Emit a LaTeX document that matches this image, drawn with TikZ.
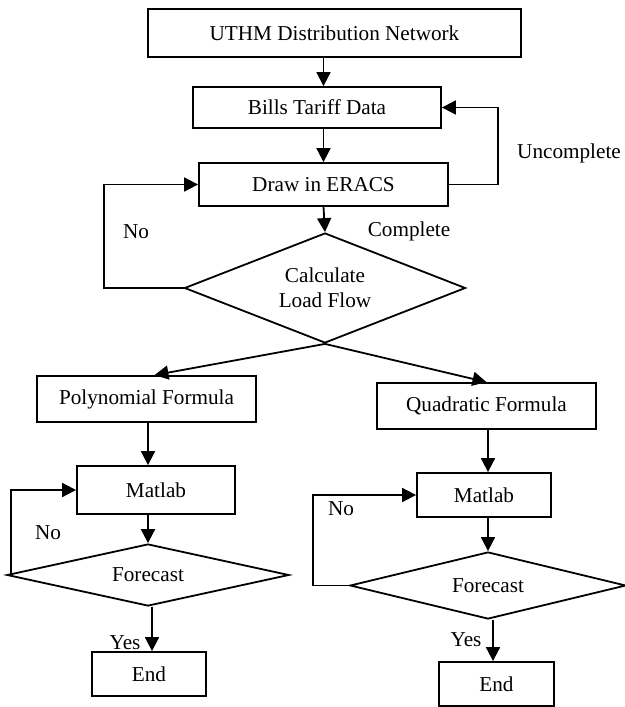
\documentclass[tikz,border=0pt]{standalone}
\usepackage{fontspec}
\setmainfont{Liberation Serif}
\usetikzlibrary{shapes.geometric,arrows.meta,calc}

\begin{document}
\begin{tikzpicture}[x=0.5pt,y=-0.5pt,line width=0.9pt,>={Triangle[length=7pt,width=7pt]}]
\tikzstyle{every node}=[font=\fontsize{10.6pt}{12.5pt}\selectfont]
\tikzstyle{blk}=[draw, inner sep=0pt]
\tikzstyle{dec}=[draw, shape=diamond, aspect=2.5, inner sep=0pt, align=center]
	\useasboundingbox (0,0) rectangle (625,707);

	\node[blk, minimum width=186.5pt, minimum height=24pt] (uthm) at (334.5,33) {UTHM Distribution Network};
	\node[blk, minimum width=124pt, minimum height=20.5pt] (bills) at (317,107.5) {Bills Tariff Data};
	\node[blk, minimum width=124.5pt, minimum height=21.5pt] (eracs) at (323.5,184.5) {Draw in ERACS};
	\node[dec, minimum width=140.5pt, minimum height=55pt] (calc) at (325,288) {Calculate\\Load Flow};

	\draw[->] (uthm.south -| eracs) -- (bills.north -| eracs);
	\draw[->] (bills.south -| eracs) -- (eracs.north);
	\draw[->] (eracs.south) -- (calc.north);
	\draw[->] (eracs.east) -- ++(49,0) |- (bills.east);
	\draw[->] (calc.west) -- ++(-80,0) |- (eracs.west);
	\node (uncomp) at (569,153) {Uncomplete};
	\node (no1) at (136,232) {No};
	\node (comp) at (409,231) {Complete};

	\node[blk, minimum width=109.5pt, minimum height=23pt] (poly) at (146.5,399) {Polynomial Formula};
	\node[blk, minimum width=79pt, minimum height=24pt] (matL) at (156,490) {Matlab};
	\node[dec, minimum width=141pt, minimum height=31pt] (fcL) at (148,575) {Forecast};
	\node[blk, minimum width=57pt, minimum height=22pt] (endL) at (149,674) {End};

	\draw[->] (calc.south) -- ($(poly.north)+(8,0)$);
	\draw[->] (poly.south -| fcL) -- (matL.north -| fcL);
	\draw[->] (matL.south -| fcL) -- (fcL.north);
	\draw[->] ($(fcL.west)+(5,-1)$) |- (matL.west);
	\coordinate (yl) at ($(fcL.south)+(4,0)$);
	\draw[->] (yl) -- (yl |- endL.north);
	\node (no2) at (48,533) {No};
	\node (yes1) at (125,643) {Yes};

	\node[blk, minimum width=109.5pt, minimum height=23pt] (quad) at (486.5,406) {Quadratic Formula};
	\node[blk, minimum width=67pt, minimum height=22pt] (matR) at (484,495) {Matlab};
	\node[dec, minimum width=138pt, minimum height=33.5pt] (fcR) at (488,585.5) {Forecast};
	\node[blk, minimum width=57.5pt, minimum height=22pt] (endR) at (496.5,684) {End};

	\draw[->] (calc.south) -- (quad.north);
	\draw[->] (quad.south -| fcR) -- (matR.north -| fcR);
	\draw[->] (matR.south -| fcR) -- (fcR.north);
	\draw[->] (fcR.west) -- ++(-36,0) |- (matR.west);
	\coordinate (yr) at ($(fcR.south)+(5,0)$);
	\draw[->] (yr) -- (yr |- endR.north);
	\node (no3) at (341,509) {No};
	\node (yes2) at (466,640) {Yes};
\end{tikzpicture}
\end{document}
